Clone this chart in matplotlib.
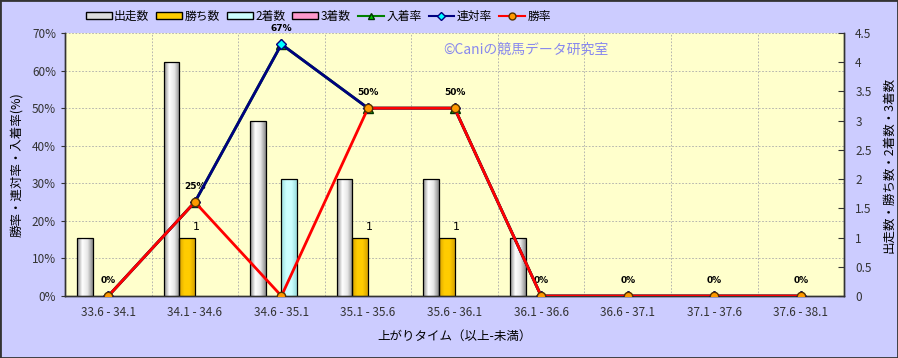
import matplotlib.pyplot as plt
import matplotlib.transforms as mtransforms
from matplotlib.colors import LinearSegmentedColormap
from matplotlib.lines import Line2D
from matplotlib.patches import Patch, Rectangle
import numpy as np

plt.rcParams['font.family'] = ['Noto Sans CJK JP', 'DejaVu Sans']

categories = ['33.6 - 34.1', '34.1 - 34.6', '34.6 - 35.1', '35.1 - 35.6', '35.6 - 36.1',
              '36.1 - 36.6', '36.6 - 37.1', '37.1 - 37.6', '37.6 - 38.1']
starts = [1, 4, 3, 2, 2, 1, 0, 0, 0]      # 出走数
wins = [0, 1, 0, 1, 1, 0, 0, 0, 0]        # 勝ち数
seconds = [0, 0, 2, 0, 0, 0, 0, 0, 0]     # 2着数
thirds = [0, 0, 0, 0, 0, 0, 0, 0, 0]      # 3着数
win_rate = [0, 25, 0, 50, 50, 0, 0, 0, 0]           # 勝率
quinella_rate = [0, 25, 67, 50, 50, 0, 0, 0, 0]     # 連対率
place_rate = [0, 25, 67, 50, 50, 0, 0, 0, 0]        # 入着率

BG = '#ccccff'
PLOT_BG = '#ffffcc'


def shade_bars(ax, bars, colors):
    """Fill each bar with a horizontal gradient clipped to its shape."""
    cmap = LinearSegmentedColormap.from_list('g', colors)
    grad = np.linspace(0, 1, 64).reshape(1, -1)
    for b in bars:
        h = b.get_height()
        if h <= 0:
            continue
        x0, w = b.get_x(), b.get_width()
        im = ax.imshow(grad, extent=[x0, x0 + w, 0, h], aspect='auto',
                       cmap=cmap, zorder=b.get_zorder() - 0.1, interpolation='bilinear')
        im.set_clip_path(b)


fig = plt.figure(figsize=(8.98, 3.58), dpi=100, facecolor=BG)
ax = fig.add_axes([0.0724, 0.1732, 0.8676, 0.7346])
ax2 = ax.twinx()
ax.set_zorder(ax2.get_zorder() + 1)
ax.patch.set_visible(False)
ax2.patch.set_visible(True)
ax2.patch.set_facecolor(PLOT_BG)

x = np.arange(len(categories))
w = 0.18

# bars on the count axis
white_cols = ['#8a8a8a', '#ffffff', '#e6e6e6', '#8a8a8a']
gold_cols = ['#d9a400', '#ffcc00', '#ffcc00', '#d9a400']
cyan_cols = ['#99dddd', '#ccffff', '#ccffff', '#99dddd']
pink_cols = ['#dd7799', '#ff99cc', '#ff99cc', '#dd7799']
series = [(starts, -1.5, white_cols), (wins, -0.5, gold_cols),
          (seconds, 0.5, cyan_cols), (thirds, 1.5, pink_cols)]
for vals, off, cols in series:
    bars = ax2.bar(x + off * w, vals, w, facecolor='none', edgecolor='black',
                   linewidth=0.9, zorder=3)
    for b, v in zip(bars, vals):
        if v == 0:
            b.set_visible(False)
    shade_bars(ax2, bars, cols)

for xi, v in zip(x, wins):
    if v > 0:
        ax2.annotate(str(v), (xi, v), xytext=(1, 4), textcoords='offset points',
                     ha='center', va='bottom', fontsize=8, fontfamily='DejaVu Sans')

ax2.set_xlim(-0.5, len(categories) - 0.5)
ax2.set_ylim(0, 4.5)
ax2.set_yticks(np.arange(0, 4.51, 0.5))
ax2.set_yticklabels(['0', '0.5', '1', '1.5', '2', '2.5', '3', '3.5', '4', '4.5'])
ax2.tick_params(axis='y', direction='in', length=4, labelsize=8.5, colors='#333333', pad=8)
ax2.set_ylabel('出走数・勝ち数・2着数・3着数', fontsize=9, labelpad=8)

# grid under the bars
pct_ticks = np.arange(10, 71, 10)
blend = mtransforms.blended_transform_factory(ax2.transAxes, ax.transData)
for v in pct_ticks:
    ax2.plot([0, 1], [v, v], transform=blend, color='#aaaaaa', linestyle=(0, (2, 2)),
             linewidth=0.6, zorder=1)
for b in np.arange(0.5, len(categories) - 0.5, 1):
    ax2.axvline(b, color='#aaaaaa', linestyle=(0, (2, 2)), linewidth=0.6, zorder=1)

# rate lines on the percent axis
ax.plot(x, place_rate, color='#008000', linewidth=2.0, marker='^', markersize=6.5,
        markerfacecolor='#00cc00', markeredgecolor='#003300', zorder=3)
ax.plot(x, quinella_rate, color='#000080', linewidth=2.0, marker='D', markersize=5,
        markerfacecolor='#00ffff', markeredgecolor='#000080', zorder=4)
ax.plot(x, win_rate, color='#ff0000', linewidth=2.0, marker='o', markersize=6,
        markerfacecolor='#ff9900', markeredgecolor='#553300', zorder=5)

for xi, v in zip(x, quinella_rate):
    ax.annotate(f'{v}%', (xi, v), xytext=(0, 8), textcoords='offset points',
                ha='center', va='bottom', fontsize=6.5, fontweight='bold',
                fontfamily='DejaVu Sans')

ax.set_xlim(-0.5, len(categories) - 0.5)
ax.set_ylim(0, 70)
ax.set_yticks(np.arange(0, 71, 10))
ax.set_yticklabels([f'{v}%' for v in range(0, 71, 10)])
ax.tick_params(axis='y', direction='out', length=3, labelsize=8.5, colors='#333333')
ax.set_xticks(x)
ax.set_xticklabels(categories)
ax.tick_params(axis='x', length=0, labelsize=8.5, labelcolor='#333333', pad=7)
ax.set_ylabel('勝率・連対率・入着率(%)', fontsize=9, labelpad=6)
ax.set_xlabel('上がりタイム（以上-未満）', fontsize=9, labelpad=8)

for a in (ax, ax2):
    a.spines['top'].set_visible(False)
    for s in ('left', 'right', 'bottom'):
        a.spines[s].set_color('#333333')
        a.spines[s].set_linewidth(1)

ax.text(0.485, 0.935, '©Caniの競馬データ研究室', transform=ax.transAxes,
        color='#8888ee', fontsize=10, ha='left', va='center')

handles = [
    Patch(facecolor='#dddddd', edgecolor='black', label='出走数'),
    Patch(facecolor='#ffcc00', edgecolor='black', label='勝ち数'),
    Patch(facecolor='#ccffff', edgecolor='black', label='2着数'),
    Patch(facecolor='#ff99cc', edgecolor='black', label='3着数'),
    Line2D([], [], color='#008000', marker='^', markerfacecolor='#00cc00',
           markeredgecolor='#003300', markersize=5, label='入着率'),
    Line2D([], [], color='#000080', marker='D', markerfacecolor='#00ffff',
           markeredgecolor='#000080', markersize=4, label='連対率'),
    Line2D([], [], color='#ff0000', marker='o', markerfacecolor='#ff9900',
           markeredgecolor='#553300', markersize=5, label='勝率'),
]
fig.legend(handles=handles, loc='center left', bbox_to_anchor=(0.09, 0.955), ncol=7,
           frameon=False, fontsize=8.5, handlelength=2.2, handleheight=0.6,
           handletextpad=0.2, columnspacing=0.6, borderaxespad=0)

fig.patches.append(Rectangle((0, 0), 1, 1, transform=fig.transFigure, fill=False,
                             edgecolor='#333333', linewidth=2))

fig.savefig('out.png', dpi=100, facecolor=BG)
